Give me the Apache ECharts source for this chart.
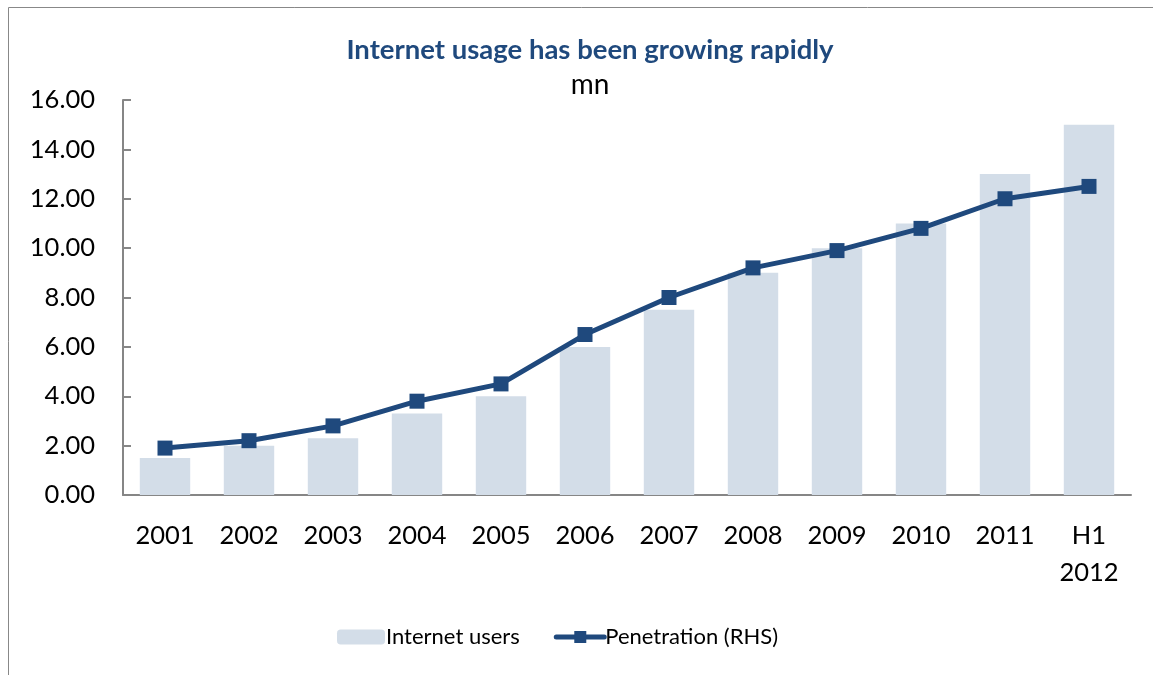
<!DOCTYPE html>
<html><head><meta charset="utf-8">
<script src="https://cdn.jsdelivr.net/npm/echarts@6/dist/echarts.min.js"></script>
<style>html,body{margin:0;padding:0;background:#fff}#c{width:1153px;height:675px}</style>
</head><body><div id="c"></div>
<script>
const categories = ['2001','2002','2003','2004','2005','2006','2007','2008','2009','2010','2011','H1\n2012'];
const internetUsers = [1.5, 2.0, 2.3, 3.3, 4.0, 6.0, 7.5, 9.0, 10.0, 11.0, 13.0, 15.0];
const penetration = [1.9, 2.2, 2.8, 3.8, 4.5, 6.5, 8.0, 9.2, 9.9, 10.8, 12.0, 12.5];
const titleText = 'Internet usage has been growing rapidly';
const unitText = 'mn';

const FONT = 'Lato';
const chart = echarts.init(document.getElementById('c'), null, {renderer: 'canvas'});
chart.setOption({
  animation: false,
  textStyle: {fontFamily: FONT},
  graphic: [{
    type: 'polyline', shape: {points: [[8.5, 700], [8.5, 7.5], [1200, 7.5]]},
    style: {stroke: '#888', lineWidth: 1, fill: null}, silent: true
  }],
  title: [{
    text: titleText, left: 585, top: 31, textAlign: 'center',
    textStyle: {fontFamily: FONT, fontWeight: 'bold', fontSize: 27.5, color: '#1f497d'}
  }, {
    text: unitText, left: 585, top: 66, textAlign: 'center',
    textStyle: {fontFamily: FONT, fontWeight: 'normal', fontSize: 28, color: '#000'}
  }],
  legend: {
    bottom: 22, left: 332,
    itemWidth: 48, itemHeight: 15, itemGap: 34,
    textStyle: {fontFamily: FONT, fontSize: 22, color: '#000', padding: [0, 0, 0, -4]},
    data: [
      {name: 'Internet users'},
      {name: 'Penetration (RHS)', lineStyle: {width: 5, cap: 'round', color: '#1f497d'}}
    ]
  },
  grid: {left: 123, right: 22, top: 100, bottom: 180},
  xAxis: {
    type: 'category', data: categories,
    axisLine: {lineStyle: {color: '#868686', width: 2}},
    axisTick: {inside: true, length: 8, lineStyle: {color: '#868686', width: 2}},
    axisLabel: {fontFamily: FONT, fontSize: 25.5, color: '#000', margin: 22, lineHeight: 37}
  },
  yAxis: {
    type: 'value', min: 0, max: 16, interval: 2,
    axisLine: {show: true, lineStyle: {color: '#868686', width: 2}},
    axisTick: {show: true, inside: true, length: 8, lineStyle: {color: '#868686', width: 2}},
    splitLine: {show: false},
    axisLabel: {fontFamily: FONT, fontSize: 25.5, color: '#000', margin: 28,
      formatter: v => v.toFixed(2)}
  },
  series: [{
    name: 'Internet users', type: 'bar', data: internetUsers, barWidth: '60%',
    itemStyle: {color: '#d3dde8'}
  }, {
    name: 'Penetration (RHS)', type: 'line', data: penetration,
    symbol: 'rect', symbolSize: 15,
    lineStyle: {color: '#1f497d', width: 5},
    itemStyle: {color: '#1f497d'}
  }]
});
</script></body></html>
